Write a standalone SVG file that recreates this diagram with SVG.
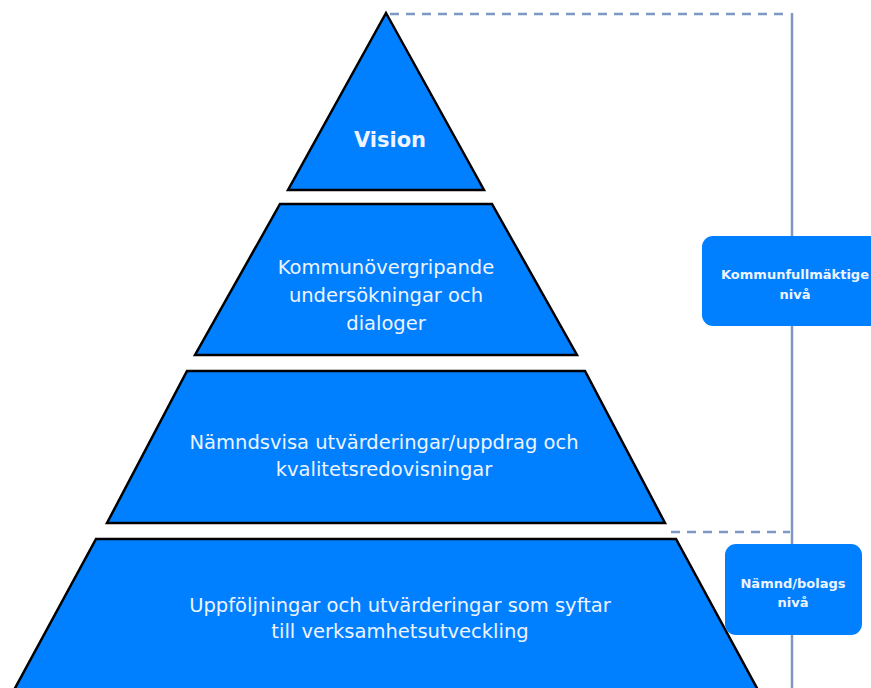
<svg xmlns="http://www.w3.org/2000/svg" width="871" height="688" viewBox="0 0 871 688">
<style>
.lvl{fill:#0080ff;stroke:#000;stroke-width:2.5;stroke-linejoin:miter}
.t{font-family:"DejaVu Sans","Liberation Sans",sans-serif;font-size:19.5px;fill:#eef4ff;text-anchor:middle}
.b{font-family:"DejaVu Sans","Liberation Sans",sans-serif;font-size:13px;font-weight:bold;fill:#eef4ff;text-anchor:middle}
.box{fill:#0080ff}
.ln{stroke:#7f98c4;stroke-width:2.5;fill:none}
.dash{stroke-dasharray:9,7}
</style>
<rect width="871" height="688" fill="#fff"/>
<g id="connectors">
<path class="ln dash" d="M390 14 H790"/>
<path class="ln" d="M792 13 V688"/>
<path class="ln dash" d="M671 532 H790"/>
</g>
<g id="vision">
<polygon class="lvl" points="386,13 484,190 288,190"/>
<text class="t" x="390" y="147" style="font-weight:bold;font-size:21px">Vision</text>
</g>
<g id="kommunovergripande">
<polygon class="lvl" points="280,204 492,204 577,355 195,355"/>
<text class="t" x="386" y="274">Kommunövergripande</text>
<text class="t" x="386" y="302">undersökningar och</text>
<text class="t" x="386" y="330">dialoger</text>
</g>
<g id="namndsvisa">
<polygon class="lvl" points="187,371 585,371 665,523 107,523"/>
<text class="t" x="384" y="449">Nämndsvisa utvärderingar/uppdrag och</text>
<text class="t" x="384" y="476">kvalitetsredovisningar</text>
</g>
<g id="uppfoljningar">
<polygon class="lvl" points="96,539 676,539 758,690 14,690"/>
<text class="t" x="400" y="612">Uppföljningar och utvärderingar som syftar</text>
<text class="t" x="400" y="638">till verksamhetsutveckling</text>
</g>
<g id="kf-niva">
<rect class="box" x="702" y="236" width="185" height="90" rx="11"/>
<text class="b" x="795" y="279">Kommunfullmäktige</text>
<text class="b" x="795" y="299">nivå</text>
</g>
<g id="namnd-niva">
<rect class="box" x="725" y="544" width="137" height="91" rx="11"/>
<text class="b" x="793" y="588">Nämnd/bolags</text>
<text class="b" x="793" y="607">nivå</text>
</g>
</svg>
